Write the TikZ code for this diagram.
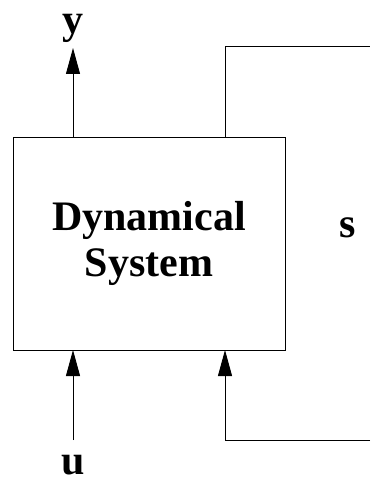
\documentclass[tikz,border=0pt]{standalone}
\usepackage{fontspec}
\setmainfont{Liberation Serif}
\usetikzlibrary{arrows.meta}
\begin{document}
\begin{tikzpicture}[x=1pt,y=-1pt,
  line width=0.9pt,
  arr/.style={-{Triangle[length=26pt,width=14pt]}},
  lbl/.style={font=\fontsize{42}{45}\selectfont\bfseries, inner sep=0pt},
  sysbox/.style={draw, minimum width=272pt, minimum height=213pt, inner sep=0pt, align=center,
     font=\fontsize{42}{46}\selectfont\bfseries}]
\useasboundingbox (0,0) rectangle (370,481);
\node[sysbox] (sys) at (149,243.5) {Dynamical\\System};
\coordinate (ytop) at (73,48);
\coordinate (ybase) at (73,137);
\coordinate (ubot) at (73,440);
\coordinate (ubase) at (73,350);
\coordinate (fbtop) at (225,137);
\coordinate (fbcorner1) at (225,46);
\coordinate (fbend1) at (370,46);
\coordinate (fbin) at (225,350);
\coordinate (fbcorner2) at (225,440);
\coordinate (fbend2) at (370,440);
\node[lbl, anchor=base] (y) at (73,34) {y};
\node[lbl, anchor=base] (u) at (73,474) {u};
\node[lbl, anchor=base] (s) at (348,237) {s};
\draw[arr] (ybase) -- (ytop);
\draw[arr] (ubot) -- (ubase);
\draw (fbtop) -- (fbcorner1) -- (fbend1);
\draw[arr] (fbend2) -- (fbcorner2) -- (fbin);
\end{tikzpicture}
\end{document}
